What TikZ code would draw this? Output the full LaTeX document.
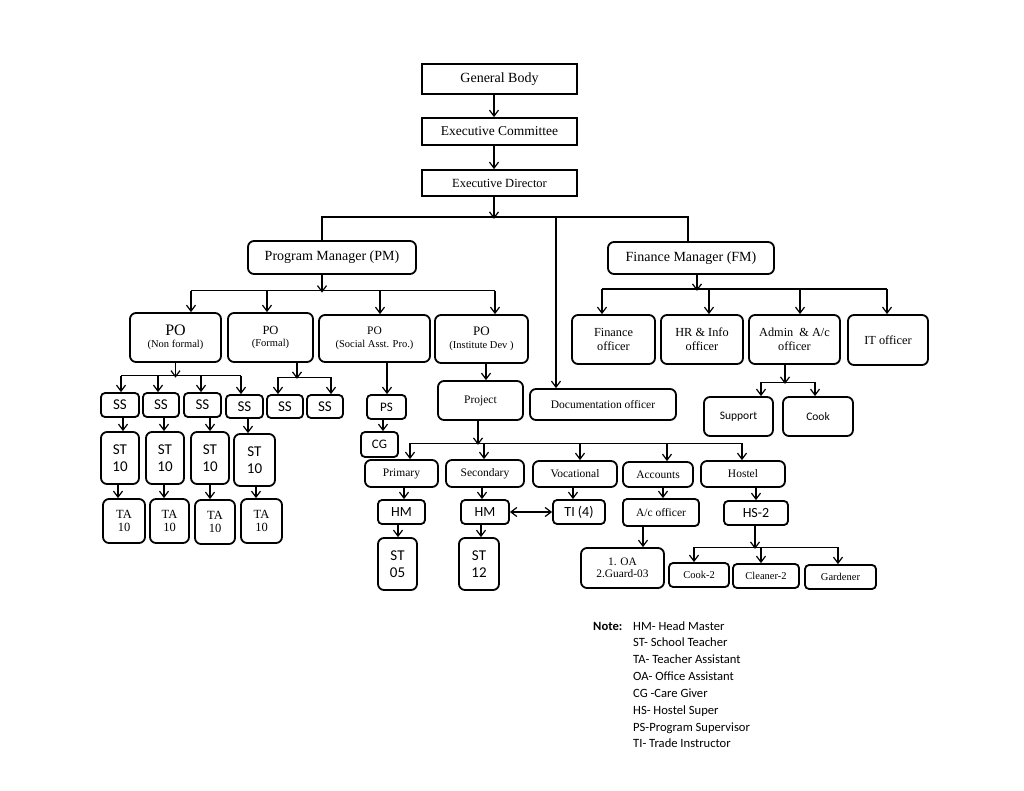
\documentclass[tikz,border=0pt]{standalone}
\usepackage{fontspec}
\setmainfont{Liberation Serif}
\newfontfamily\calib{Carlito}
\usetikzlibrary{arrows.meta}
\newcommand\fs[2]{\fontsize{#1pt}{#2pt}\selectfont}
\begin{document}
\begin{tikzpicture}[x=1pt,y=-1pt,
 box/.style={draw, line width=1.8pt, rounded corners=6pt, align=center, inner sep=0pt},
 sbox/.style={box, rounded corners=4pt},
 sq/.style={draw, line width=1.8pt, align=center, inner sep=0pt},
 ln/.style={line width=1.2pt},
 arr/.style={line width=1.2pt, -{Straight Barb[length=6pt,width=9pt]}},
 darr/.style={line width=1.2pt, {Straight Barb[length=6pt,width=9pt]}-{Straight Barb[length=6pt,width=9pt]}},
 sz/.style 2 args={minimum width=#1pt, minimum height=#2pt},
 serifA/.style={font=\fs{12.3}{14}},
 serifB/.style={font=\fs{11.5}{13}},
 fsmall/.style={font=\fs{10.5}{12.5}},
 fta/.style={font=\fs{12.5}{13}},
 calA/.style={font=\calib\fs{15}{17}},
 calB/.style={font=\calib\fs{14}{16}},
 calC/.style={font=\calib\fs{11.5}{13}},
 notetxt/.style={font=\calib\fs{12.6}{14}, inner sep=0pt, anchor=base west}]
\fill[white] (0,0) rectangle (1024,791);
\useasboundingbox (0,0) rectangle (1024,791);

% top chain
\node[sq, sz={155}{30}, font=\fs{14}{16}] (gb) at (499.5,79) {General Body};
\node[sq, sz={155}{27}, font=\fs{13.5}{16}] (ec) at (499.5,131.5) {Executive Committee};
\node[sq, sz={155}{26}, font=\fs{12.5}{15}] (ed) at (499.5,183) {Executive Director};
\node[box, sz={168}{33}, font=\fs{14}{16}] (pm) at (332,257.5) {Program Manager (PM)};
\node[box, sz={166}{32}, font=\fs{14}{16}] (fm) at (691,258) {Finance Manager (FM)};

% PO level
\node[box, sz={91}{49}, fsmall] (po1) at (175.5,337.5) {{\fs{16}{16}PO}\\(Non formal)};
\node[box, sz={85}{49}, fsmall] (po2) at (270.5,337.5) {{\fs{12.5}{14}PO}\\(Formal)};
\node[box, sz={111}{47}, fsmall] (po3) at (374.5,338.5) {{\fs{11.5}{13}PO}\\(Social Asst. Pro.)};
\node[box, sz={93}{48}, fsmall] (po4) at (481.5,339) {{\fs{13}{15}PO}\\(Institute Dev )};

% SS
\node[sbox, sz={38}{24}, calA] (ss1) at (120,405) {SS};
\node[sbox, sz={36}{24}, calA] (ss2) at (161,405) {SS};
\node[sbox, sz={37}{24}, calA] (ss3) at (202.5,405) {SS};
\node[sbox, sz={37}{23}, calA] (ss4) at (244.5,406.5) {SS};
\node[sbox, sz={36}{23}, calA] (ss5) at (285,406.5) {SS};
\node[sbox, sz={36}{23}, calA] (ss6) at (325,406.5) {SS};

% ST
\node[box, sz={38}{52}, calA] (st1) at (120,458) {ST\\10};
\node[box, sz={38}{52}, calA] (st2) at (165,458) {ST\\10};
\node[box, sz={38}{52}, calA] (st3) at (210,458) {ST\\10};
\node[box, sz={41}{52}, calA] (st4) at (254.5,460) {ST\\10};

% TA
\node[box, sz={42}{44}, fta] (ta1) at (124,521) {TA\\10};
\node[box, sz={39}{44}, fta] (ta2) at (169.5,521) {TA\\10};
\node[box, sz={40}{44}, fta] (ta3) at (215,522) {TA\\10};
\node[box, sz={41}{44}, fta] (ta4) at (261.5,521) {TA\\10};

% PS, CG
\node[sbox, sz={39}{24}, font=\calib\fs{13}{15}] (ps) at (386.5,407) {PS};
\node[sbox, sz={37}{25}, font=\calib\fs{13}{15}] (cg) at (379.5,444.5) {CG};

% project branch
\node[box, sz={85}{39}, serifB] (proj) at (480.5,400.5) {Project};
\node[box, sz={146}{31}, serifB] (doc) at (603,404.5) {Documentation officer};
\node[box, sz={73}{27}, serifB] (pri) at (401.5,473.5) {Primary};
\node[box, sz={78}{27}, serifB] (sec) at (485,473.5) {Secondary};
\node[box, sz={84}{26}, serifB] (voc) at (575,474) {Vocational};
\node[box, sz={70}{25}, serifB] (acc) at (658,474.5) {Accounts};
\node[box, sz={84}{26}, serifB] (hos) at (743,474) {Hostel};
\node[sbox, sz={47}{24}, calB] (hm1) at (401.5,512) {HM};
\node[sbox, sz={48}{24}, calB] (hm2) at (485,512) {HM};
\node[sbox, sz={52}{24}, calB] (ti) at (579,512) {TI (4)};
\node[sbox, sz={76}{27}, serifB] (acoff) at (661,512.5) {A/c officer};
\node[sbox, sz={64}{24}, calB] (hs2) at (756,513) {HS-2};
\node[box, sz={39}{52}, calA] (st5) at (397.5,564) {ST\\05};
\node[box, sz={40}{52}, calA] (st6) at (479,564) {ST\\12};
\node[box, sz={83}{40}, font=\fs{11.4}{12.5}] (oa) at (622.5,568) {1. OA\\2.Guard-03};
\node[sbox, sz={60}{24}, fsmall] (cook2) at (699,575) {Cook-2};
\node[sbox, sz={66}{24}, fsmall] (clean) at (766,576) {Cleaner-2};
\node[sbox, sz={71}{24}, fsmall] (gard) at (840.5,577) {Gardener};

% finance branch
\node[box, sz={83}{49}, serifA] (fo) at (613.5,339.5) {Finance\\officer};
\node[box, sz={82}{49}, serifA] (hr) at (702,339.5) {HR \& Info\\officer};
\node[box, sz={91}{49}, serifA] (adm) at (794.5,339.5) {Admin~ \& A/c\\officer};
\node[box, sz={80}{50}, serifA] (it) at (888,340) {IT officer};
\node[box, sz={69}{39}, calC] (sup) at (738.5,416.5) {Support};
\node[box, sz={70}{39}, calC] (cook) at (818,416.5) {Cook};

% ---- connectors: top
\draw[arr] ([xshift=-5.5pt]gb.south) -- ([xshift=-5.5pt]ec.north);
\draw[arr] ([xshift=-5.5pt]ec.south) -- ([xshift=-5.5pt]ed.north);
\draw[arr] ([xshift=-5.5pt]ed.south) -- ([xshift=-5.5pt,yshift=-22pt]ed.south);
\draw[ln] ([xshift=-10pt]pm.north) -- ([xshift=-10pt,yshift=23pt]pm.north) -- ([xshift=-3pt,yshift=24pt]fm.north) -- ([xshift=-3pt]fm.north);
\draw[arr] ([xshift=-47pt,yshift=171pt]doc.north) -- ([xshift=-47pt]doc.north);

% PM level
\draw[arr] ([xshift=-10pt]pm.south) -- ([xshift=-10pt,yshift=-17.7pt]pm.south);
\draw[ln] ([xshift=15.5pt,yshift=21.3pt]po1.north) -- ([xshift=13.5pt,yshift=23.3pt]po4.north);
\draw[arr] ([xshift=15.5pt,yshift=21.3pt]po1.north) -- ([xshift=15.5pt]po1.north);
\draw[arr] ([xshift=-3.5pt,yshift=21.3pt]po2.north) -- ([xshift=-3.5pt]po2.north);
\draw[arr] ([xshift=5.5pt,yshift=23.3pt]po3.north) -- ([xshift=5.5pt]po3.north);
\draw[arr] ([xshift=13.5pt,yshift=23.3pt]po4.north) -- ([xshift=13.5pt]po4.north);

% PO non formal group
\draw[arr] (po1.south) -- ([yshift=-14.7pt]po1.south);
\draw[ln] ([xshift=1pt,yshift=16.3pt]ss1.north) -- ([xshift=-3.5pt,yshift=18.3pt]ss4.north);
\draw[arr] ([xshift=1pt,yshift=16.3pt]ss1.north) -- ([xshift=1pt]ss1.north);
\draw[arr] ([xshift=-3pt,yshift=16.3pt]ss2.north) -- ([xshift=-3pt]ss2.north);
\draw[arr] ([xshift=-1.5pt,yshift=16.3pt]ss3.north) -- ([xshift=-1.5pt]ss3.north);
\draw[arr] ([xshift=-3.5pt,yshift=18.3pt]ss4.north) -- ([xshift=-3.5pt]ss4.north);
% PO formal group
\draw[arr] ([xshift=26.5pt]po2.south) -- ([xshift=26.5pt,yshift=-16pt]po2.south);
\draw[ln] ([xshift=-7pt,yshift=17pt]ss5.north) -- ([xshift=6pt,yshift=17pt]ss6.north);
\draw[arr] ([xshift=-7pt,yshift=17pt]ss5.north) -- ([xshift=-7pt]ss5.north);
\draw[arr] ([xshift=6pt,yshift=17pt]ss6.north) -- ([xshift=6pt]ss6.north);
% SS -> ST -> TA
\draw[arr] ([xshift=3pt]ss1.south) -- ([xshift=3pt]st1.north);
\draw[arr] ([xshift=3pt]ss2.south) -- ([xshift=-1pt]st2.north);
\draw[arr] ([xshift=7.5pt]ss3.south) -- (st3.north);
\draw[arr] ([xshift=3.5pt]ss4.south) -- ([xshift=-6.5pt]st4.north);
\draw[arr] ([xshift=-2pt]st1.south) -- ([xshift=-6pt]ta1.north);
\draw[arr] ([xshift=-1pt]st2.south) -- ([xshift=-5.5pt]ta2.north);
\draw[arr] (st3.south) -- ([xshift=-5pt]ta3.north);
\draw[arr] ([xshift=1.5pt]st4.south) -- ([xshift=-5.5pt]ta4.north);

% social
\draw[arr] ([xshift=12.5pt]po3.south) -- ([xshift=0.5pt]ps.north);
\draw[arr] ([xshift=-3.5pt]ps.south) -- ([xshift=3.5pt]cg.north);

% institute
\draw[arr] ([xshift=4.5pt]po4.south) -- ([xshift=5.5pt]proj.north);
\draw[arr] ([xshift=-2.5pt]proj.south) -- ([xshift=-2.5pt,yshift=-24pt]proj.south);
\draw[ln] ([xshift=8.5pt,yshift=16pt]pri.north) -- ([xshift=-1pt,yshift=17pt]hos.north);
\draw[arr] ([xshift=8.5pt,yshift=16pt]pri.north) -- ([xshift=8.5pt]pri.north);
\draw[arr] ([xshift=-1pt,yshift=16pt]sec.north) -- ([xshift=-1pt]sec.north);
\draw[arr] ([xshift=5pt,yshift=17pt]voc.north) -- ([xshift=5pt]voc.north);
\draw[arr] ([xshift=9pt,yshift=18pt]acc.north) -- ([xshift=9pt]acc.north);
\draw[arr] ([xshift=-1pt,yshift=17pt]hos.north) -- ([xshift=-1pt]hos.north);
\draw[arr] ([xshift=2.5pt]pri.south) -- ([xshift=2.5pt]hm1.north);
\draw[arr] ([xshift=-3.5pt]hm1.south) -- ([xshift=0.5pt]st5.north);
\draw[arr] ([xshift=-3pt]sec.south) -- ([xshift=-3pt]hm2.north);
\draw[arr] ([xshift=-4pt]hm2.south) -- ([xshift=2pt]st6.north);
\draw[darr] (hm2.east) -- (ti.west);
\draw[arr] ([xshift=-2pt]voc.south) -- ([xshift=-6pt]ti.north);
\draw[arr] ([xshift=5pt]acc.south) -- ([xshift=2pt]acoff.north);
\draw[arr] ([xshift=-18pt]acoff.south) -- ([xshift=20.5pt]oa.north);
\draw[arr] ([xshift=13pt]hos.south) -- (hs2.north);
\draw[arr] ([xshift=-1pt]hs2.south) -- ([xshift=-1pt,yshift=-23pt]hs2.south);
\draw[ln] ([xshift=-5pt,yshift=15pt]cook2.north) -- ([xshift=-2.5pt,yshift=17pt]gard.north);
\draw[arr] ([xshift=-5pt,yshift=15pt]cook2.north) -- ([xshift=-5pt]cook2.north);
\draw[arr] ([xshift=-5pt,yshift=16pt]clean.north) -- ([xshift=-5pt]clean.north);
\draw[arr] ([xshift=-2.5pt,yshift=17pt]gard.north) -- ([xshift=-2.5pt]gard.north);

% finance
\draw[arr] ([xshift=6pt]fm.south) -- ([xshift=6pt,yshift=-16pt]fm.south);
\draw[ln] ([xshift=-11.5pt,yshift=25pt]fo.north) -- ([xshift=-1pt,yshift=25pt]it.north);
\draw[arr] ([xshift=-11.5pt,yshift=25pt]fo.north) -- ([xshift=-11.5pt]fo.north);
\draw[arr] ([xshift=7pt,yshift=25pt]hr.north) -- ([xshift=7pt]hr.north);
\draw[arr] ([xshift=5.5pt,yshift=25pt]adm.north) -- ([xshift=5.5pt]adm.north);
\draw[arr] ([xshift=-1pt,yshift=25pt]it.north) -- ([xshift=-1pt]it.north);
\draw[arr] ([xshift=-9.5pt]adm.south) -- ([xshift=-9.5pt,yshift=-19pt]adm.south);
\draw[ln] ([xshift=22.5pt,yshift=14pt]sup.north) -- ([xshift=-3pt,yshift=14pt]cook.north);
\draw[arr] ([xshift=22.5pt,yshift=14pt]sup.north) -- ([xshift=22.5pt]sup.north);
\draw[arr] ([xshift=-3pt,yshift=14pt]cook.north) -- ([xshift=-3pt]cook.north);

% notes
\node[notetxt, font=\calib\bfseries\fs{12.6}{14}] (note) at (593,630) {Note:};
\foreach \t [count=\i] in {HM- Head Master, ST- School Teacher, TA- Teacher Assistant, OA- Office Assistant, CG -Care Giver, HS- Hostel Super, PS-Program Supervisor, TI- Trade Instructor}
  \node[notetxt] (n\i) at (633,{613.15+16.85*\i}) {\t};
\end{tikzpicture}
\end{document}
